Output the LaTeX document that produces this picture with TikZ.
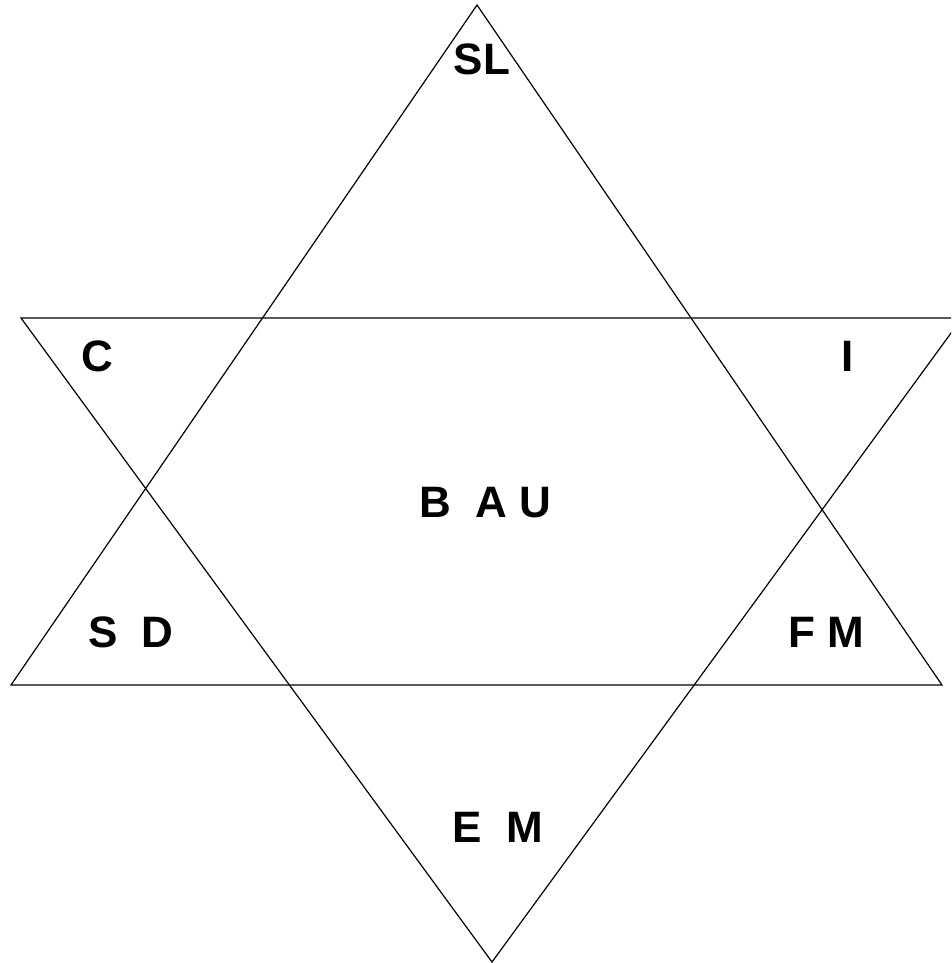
\documentclass[tikz,border=0pt]{standalone}
\usepackage{fontspec}
\setmainfont{Liberation Sans}
\begin{document}
\begin{tikzpicture}[x=1pt,y=-1pt,
  edge/.style={draw=black,line width=1.2pt,line join=miter},
  lbl/.style={font=\fontsize{44}{44}\selectfont\bfseries,inner sep=0pt,anchor=center}]
\useasboundingbox (0,0) rectangle (951,963);
\clip (0,0) rectangle (951,963);
\coordinate (A) at (477,5);
\coordinate (BL) at (11,685);
\coordinate (BR) at (942,685);
\coordinate (TL) at (21,318);
\coordinate (TR) at (962,318);
\coordinate (B) at (492,962);
\draw[edge] (A) -- (BR) -- (BL) -- cycle;
\draw[edge] (TL) -- (TR) -- (B) -- cycle;
\node[lbl] (sl) at (482,59) {SL};
\node[lbl] (c) at (97,356) {C};
\node[lbl] (i) at (848,356) {I};
\node[lbl] (bau) at (485,503) {B\ \ A U};
\node[lbl] (sd) at (131,632) {S\ \ D};
\node[lbl] (fm) at (826,632) {F M};
\node[lbl] (em) at (498,827) {E\ \ M};
\end{tikzpicture}
\end{document}
